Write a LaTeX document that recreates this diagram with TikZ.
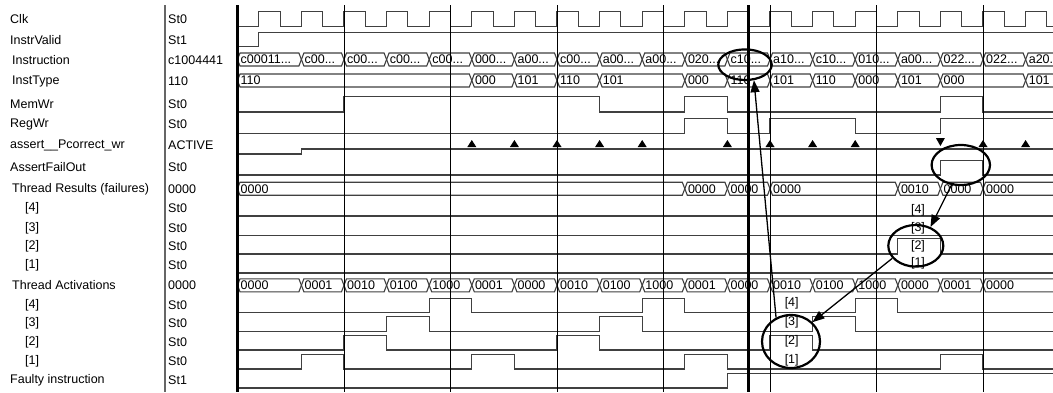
\documentclass[tikz,border=0pt]{standalone}
\usepackage{fontspec}
\setmainfont{Liberation Sans}
\usetikzlibrary{arrows.meta,shapes.geometric}
\newcount\btc
\newcommand\wbus[4]{%
  \draw[sig] (#2,#1) -- (#2+2.5,#1-6.5) -- (#3-2.5,#1-6.5) -- (#3,#1) -- (#3-2.5,#1+6.5) -- (#2+2.5,#1+6.5) -- cycle;
  \global\advance\btc by 1
  \node[btxt] (bt\the\btc) at (#2+2.5,#1) {#4};}
\begin{document}
\begin{tikzpicture}[x=1pt,y=-1pt,
  sig/.style={draw=black!75,line width=1.1pt},
  gridln/.style={draw=black,line width=1pt},
  lbl/.style={anchor=west,inner sep=0pt,font=\fontsize{12.5}{14}\selectfont},
  btxt/.style={anchor=west,inner sep=0.5pt,font=\fontsize{12.5}{14}\selectfont},
  wlbl/.style={inner sep=0pt,font=\fontsize{12.5}{14}\selectfont},
  ell/.style={ellipse,draw,line width=2.2pt,inner sep=0pt},
  arr/.style={line width=1.3pt,-{Triangle[length=12pt,width=9pt]}}]
\useasboundingbox (0,0) rectangle (1053,392);
\fill[white] (0,0) rectangle (1053,392);
% ---------- names ----------
\node[lbl] (nclk) at (10,19.5) {Clk};
\node[lbl] (nval) at (10,40) {InstrValid};
\node[lbl] (nins) at (12,60.5) {Instruction};
\node[lbl] (ntyp) at (12,81) {InstType};
\node[lbl] (nmem) at (10,104) {MemWr};
\node[lbl] (nreg) at (10,124.5) {RegWr};
\node[lbl] (nass) at (10,145) {assert\_\_Pcorrect\_wr};
\node[lbl] (nafo) at (10,167) {AssertFailOut};
\node[lbl] (ntr) at (12,189) {Thread Results (failures)};
\node[lbl] (ntr4) at (25,208.5) {[4]};
\node[lbl] (ntr3) at (25,228) {[3]};
\node[lbl] (ntr2) at (25,246.5) {[2]};
\node[lbl] (ntr1) at (25,265.5) {[1]};
\node[lbl] (nta) at (12,285) {Thread Activations};
\node[lbl] (nta4) at (25,305) {[4]};
\node[lbl] (nta3) at (25,323.5) {[3]};
\node[lbl] (nta2) at (25,342.5) {[2]};
\node[lbl] (nta1) at (25,361.5) {[1]};
\node[lbl] (nfau) at (10,380.5) {Faulty instruction};
% ---------- values ----------
\node[lbl] (vclk) at (168,19.5) {St0};
\node[lbl] (vval) at (168,40) {St1};
\node[lbl] (vins) at (168,60.5) {c1004441};
\node[lbl] (vtyp) at (168,81) {110};
\node[lbl] (vmem) at (168,104) {St0};
\node[lbl] (vreg) at (168,124.5) {St0};
\node[lbl] (vass) at (168,145) {ACTIVE};
\node[lbl] (vafo) at (168,167) {St0};
\node[lbl] (vtr) at (168,189) {0000};
\node[lbl] (vtr4) at (168,208.5) {St0};
\node[lbl] (vtr3) at (168,228) {St0};
\node[lbl] (vtr2) at (168,246.5) {St0};
\node[lbl] (vtr1) at (168,265.5) {St0};
\node[lbl] (vta) at (168,285) {0000};
\node[lbl] (vta4) at (168,305) {St0};
\node[lbl] (vta3) at (168,323.5) {St0};
\node[lbl] (vta2) at (168,342.5) {St0};
\node[lbl] (vta1) at (168,361.5) {St0};
\node[lbl] (vfau) at (168,380.5) {St1};
\draw[black!60,line width=1.2pt] (165,5) -- (165,392);
% ---------- waves ----------
\begin{scope}
\clip (237.5,0) rectangle (1053,392);
% clock
\draw[sig] (237.5,26.7) \foreach \k in {0,...,18} { -- ({258.8+42.6*\k},26.7) -- ({258.8+42.6*\k},11.7) -- ({280.1+42.6*\k},11.7) -- ({280.1+42.6*\k},26.7) } -- (1060,26.7);
% InstrValid
\draw[sig] (237.5,46.7) -- (258.8,46.7) -- (258.8,32.3) -- (1060,32.3);
% Instruction
\wbus{59.5}{237.5}{301.4}{c00011...}
\wbus{59.5}{301.4}{344}{c00...}
\wbus{59.5}{344}{386.6}{c00...}
\wbus{59.5}{386.6}{429.2}{c00...}
\wbus{59.5}{429.2}{471.8}{c00...}
\wbus{59.5}{471.8}{514.4}{000...}
\wbus{59.5}{514.4}{557}{a00...}
\wbus{59.5}{557}{599.6}{c00...}
\wbus{59.5}{599.6}{642.2}{a00...}
\wbus{59.5}{642.2}{684.8}{a00...}
\wbus{59.5}{684.8}{727.4}{020...}
\wbus{59.5}{727.4}{770}{c10...}
\wbus{59.5}{770}{812.6}{a10...}
\wbus{59.5}{812.6}{855.2}{c10...}
\wbus{59.5}{855.2}{897.8}{010...}
\wbus{59.5}{897.8}{940.4}{a00...}
\wbus{59.5}{940.4}{983}{022...}
\wbus{59.5}{983}{1025.6}{022...}
\wbus{59.5}{1025.6}{1070}{a20.}
% InstType
\wbus{80.5}{237.5}{471.8}{110}
\wbus{80.5}{471.8}{514.4}{000}
\wbus{80.5}{514.4}{557}{101}
\wbus{80.5}{557}{599.6}{110}
\wbus{80.5}{599.6}{684.8}{101}
\wbus{80.5}{684.8}{727.4}{000}
\wbus{80.5}{727.4}{770}{110}
\wbus{80.5}{770}{812.6}{101}
\wbus{80.5}{812.6}{855.2}{110}
\wbus{80.5}{855.2}{897.8}{000}
\wbus{80.5}{897.8}{940.4}{101}
\wbus{80.5}{940.4}{1025.6}{000}
\wbus{80.5}{1025.6}{1070}{101}
% MemWr
\draw[sig] (237.5,112) -- (344,112) -- (344,96.7) -- (599.6,96.7) -- (599.6,112) -- (684.8,112) -- (684.8,96.7) -- (727.4,96.7) -- (727.4,112) -- (940.4,112) -- (940.4,96.7) -- (983,96.7) -- (983,112) -- (1060,112);
% RegWr
\draw[sig] (237.5,133.3) -- (684.8,133.3) -- (684.8,118.3) -- (727.4,118.3) -- (727.4,133.3) -- (770,133.3) -- (770,118.3) -- (855.2,118.3) -- (855.2,133.3) -- (940.4,133.3) -- (940.4,118.3) -- (1060,118.3);
% assert
\draw[sig] (237.5,154) -- (301.4,154) -- (301.4,149) -- (1060,149);
\foreach \x in {471.8,514.4,557,599.6,642.2,727.4,770,812.6,855.2,983,1025.6}
  \fill (\x-4.5,147) -- (\x+4.5,147) -- (\x,140) -- cycle;
\fill (935.9,138) -- (944.9,138) -- (940.4,146) -- cycle;
% AssertFailOut
\draw[sig] (237.5,175) -- (940.4,175) -- (940.4,160.7) -- (983,160.7) -- (983,175) -- (1060,175);
% Thread results
\wbus{188.7}{237.5}{684.8}{0000}
\wbus{188.7}{684.8}{727.4}{0000}
\wbus{188.7}{727.4}{770}{0000}
\wbus{188.7}{770}{897.8}{0000}
\wbus{188.7}{897.8}{940.4}{0010}
\wbus{188.7}{940.4}{983}{0000}
\wbus{188.7}{983}{1070}{0000}
\draw[sig] (237.5,216) -- (1060,216);
\draw[sig] (237.5,235.5) -- (1060,235.5);
\draw[sig] (237.5,254) -- (897.8,254) -- (897.8,238.3) -- (940.4,238.3) -- (940.4,254) -- (1060,254);
\draw[sig] (237.5,273) -- (1060,273);
% Thread activations
\wbus{285.3}{237.5}{301.4}{0000}
\wbus{285.3}{301.4}{344}{0001}
\wbus{285.3}{344}{386.6}{0010}
\wbus{285.3}{386.6}{429.2}{0100}
\wbus{285.3}{429.2}{471.8}{1000}
\wbus{285.3}{471.8}{514.4}{0001}
\wbus{285.3}{514.4}{557}{0000}
\wbus{285.3}{557}{599.6}{0010}
\wbus{285.3}{599.6}{642.2}{0100}
\wbus{285.3}{642.2}{684.8}{1000}
\wbus{285.3}{684.8}{727.4}{0001}
\wbus{285.3}{727.4}{770}{0000}
\wbus{285.3}{770}{812.6}{0010}
\wbus{285.3}{812.6}{855.2}{0100}
\wbus{285.3}{855.2}{897.8}{1000}
\wbus{285.3}{897.8}{940.4}{0000}
\wbus{285.3}{940.4}{983}{0001}
\wbus{285.3}{983}{1070}{0000}
% TA[4]
\draw[sig] (237.5,312.7) -- (429.2,312.7) -- (429.2,298.3) -- (471.8,298.3) -- (471.8,312.7) -- (642.2,312.7) -- (642.2,298.3) -- (684.8,298.3) -- (684.8,312.7) -- (855.2,312.7) -- (855.2,298.3) -- (897.8,298.3) -- (897.8,312.7) -- (1060,312.7);
% TA[3]
\draw[sig] (237.5,331.7) -- (386.6,331.7) -- (386.6,316.7) -- (429.2,316.7) -- (429.2,331.7) -- (599.6,331.7) -- (599.6,316.7) -- (642.2,316.7) -- (642.2,331.7) -- (812.6,331.7) -- (812.6,316.7) -- (855.2,316.7) -- (855.2,331.7) -- (1060,331.7);
% TA[2]
\draw[sig] (237.5,350) -- (344,350) -- (344,335.5) -- (386.6,335.5) -- (386.6,350) -- (557,350) -- (557,335.5) -- (599.6,335.5) -- (599.6,350) -- (770,350) -- (770,335.5) -- (812.6,335.5) -- (812.6,350) -- (1060,350);
% TA[1]
\draw[sig] (237.5,369) -- (301.4,369) -- (301.4,354.3) -- (344,354.3) -- (344,369) -- (471.8,369) -- (471.8,354.3) -- (514.4,354.3) -- (514.4,369) -- (684.8,369) -- (684.8,354.3) -- (727.4,354.3) -- (727.4,369) -- (940.4,369) -- (940.4,354.3) -- (983,354.3) -- (983,369) -- (1060,369);
% Faulty
\draw[sig] (237.5,388) -- (727.4,388) -- (727.4,373.5) -- (1060,373.5);
\end{scope}
% in-wave bit labels
\node[wlbl] (r4) at (918,210) {[4]};
\node[wlbl] (r3) at (918,228.3) {[3]};
\node[wlbl] (r2) at (918,246) {[2]};
\node[wlbl] (r1) at (918,263.3) {[1]};
\node[wlbl] (a4) at (791.7,303.3) {[4]};
\node[wlbl] (a3) at (791.7,322.7) {[3]};
\node[wlbl] (a2) at (791.7,341.7) {[2]};
\node[wlbl] (a1) at (791.7,360) {[1]};
% grid
\foreach \x in {344,450.5,557,663.5,770,876.5,983}
  \draw[gridln] (\x,5) -- (\x,392);
\draw[black,line width=2.5pt] (237.5,5) -- (237.5,392);
% cursor
\draw[black,line width=3.5pt] (748.3,5) -- (748.3,392);
% annotations
\node[ell,minimum width=53.4pt,minimum height=30.6pt] (e1) at (745,64.7) {};
\node[ell,minimum width=58.4pt,minimum height=40pt] (e2) at (960.8,165) {};
\node[ell,minimum width=55pt,minimum height=41.6pt] (e3) at (915.8,245.8) {};
\node[ell,minimum width=58pt,minimum height=53pt] (e4) at (791,341.5) {};
\draw[arr] (e2.245) -- (e3.52);
\draw[arr] (e3.208) -- (e4.42);
\draw[arr] (e4.122) -- (e1.300);
\end{tikzpicture}
\end{document}
